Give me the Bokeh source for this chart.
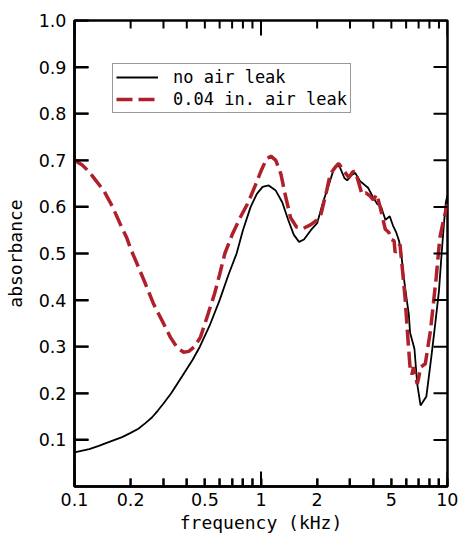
import math
from bokeh.plotting import figure
from bokeh.models import (FixedTicker, Legend, LegendItem, PrintfTickFormatter)
from bokeh.embed import file_html
from bokeh.resources import INLINE

# ---- data ----
freq_no_leak = [0.1, 0.12, 0.135, 0.15, 0.18, 0.2, 0.22, 0.24, 0.26, 0.28, 0.3, 0.33, 0.38, 0.43,
                0.47, 0.53, 0.6, 0.67, 0.74, 0.8, 0.88, 0.95, 1.02, 1.1, 1.2, 1.3, 1.4, 1.5, 1.6,
                1.7, 1.85, 2.0, 2.15, 2.3, 2.45, 2.55, 2.65, 2.8, 2.9, 3.05, 3.2, 3.4,
                3.55, 3.75, 4.0, 4.2, 4.4, 4.65, 4.9, 5.1, 5.3, 5.5, 5.65, 5.8, 6.05,
                6.2, 6.3, 6.5, 6.65, 6.88, 7.17, 7.7, 8.2, 8.6, 9.0, 9.3, 9.6, 9.8, 10.0]
abs_no_leak = [0.073, 0.08, 0.087, 0.094, 0.106, 0.115, 0.124, 0.136, 0.148, 0.163, 0.178, 0.2,
               0.238, 0.272, 0.3, 0.345, 0.4, 0.455, 0.5, 0.55, 0.6, 0.628, 0.643, 0.646, 0.635,
               0.61, 0.572, 0.54, 0.525, 0.53, 0.55, 0.565, 0.61, 0.645, 0.68, 0.69, 0.685, 0.662,
               0.657, 0.668, 0.673, 0.655, 0.649, 0.641, 0.62, 0.606, 0.601, 0.572, 0.58, 0.56,
               0.546, 0.527, 0.5, 0.455, 0.4, 0.37, 0.33, 0.31, 0.295, 0.22, 0.174, 0.193, 0.28,
               0.35, 0.42, 0.5, 0.57, 0.61, 0.625]

freq_leak = [0.1, 0.11, 0.12, 0.13, 0.144, 0.16, 0.176, 0.19, 0.2, 0.217, 0.24, 0.266, 0.3,
             0.327, 0.355, 0.385, 0.41, 0.44, 0.473, 0.52, 0.563, 0.6, 0.64, 0.7, 0.78, 0.85,
             0.93, 1.0, 1.07, 1.13, 1.2, 1.28, 1.35, 1.44, 1.55, 1.69, 1.85, 2.0, 2.1, 2.25,
             2.35, 2.5, 2.61, 2.75, 2.96, 3.1, 3.2, 3.35, 3.48, 3.65, 3.85, 4.0, 4.18, 4.35,
             4.64, 4.85, 5.0, 5.17, 5.24, 5.4, 5.56, 5.75, 5.92, 6.1, 6.3, 6.45, 6.57, 6.75,
             6.88, 7.02, 7.17, 7.4, 7.6, 8.1, 8.7, 9.1, 9.5, 10.0]
abs_leak = [0.70, 0.69, 0.675, 0.657, 0.634, 0.6, 0.563, 0.535, 0.51, 0.477, 0.435, 0.391,
            0.35, 0.32, 0.298, 0.288, 0.29, 0.3, 0.32, 0.37, 0.413, 0.455, 0.5, 0.54, 0.58,
            0.608, 0.645, 0.677, 0.703, 0.709, 0.7, 0.67, 0.625, 0.577, 0.557, 0.554, 0.562,
            0.572, 0.585, 0.635, 0.67, 0.685, 0.693, 0.68, 0.663, 0.675, 0.677, 0.65, 0.627,
            0.63, 0.623, 0.615, 0.627, 0.6, 0.552, 0.545, 0.53, 0.527, 0.502, 0.51, 0.52, 0.46,
            0.406, 0.33, 0.255, 0.24, 0.256, 0.235, 0.22, 0.235, 0.256, 0.26, 0.263, 0.334,
            0.449, 0.534, 0.57, 0.606]

x_major = [0.1, 0.2, 0.5, 1, 2, 5, 10]
x_minor = [0.3, 0.4, 0.6, 0.7, 0.8, 0.9, 3, 4, 6, 7, 8, 9]
x_decades = [0.1, 1, 10]
y_ticks = [0.1, 0.2, 0.3, 0.4, 0.5, 0.6, 0.7, 0.8, 0.9, 1.0]
x_min, x_max = 0.1, 10
y_min, y_max = 0.0, 1.0

TICK_FONT = "DejaVu Sans"
LABEL_FONT = "DejaVu Sans Mono"
RED = "#b0202a"

W, H = 458, 536
BL, BR, BT, BB = 74, 11, 20, 50
FRAME_W, FRAME_H = W - BL - BR, H - BT - BB

p = figure(width=W, height=H, x_axis_type="log", x_range=(x_min, x_max), y_range=(y_min, y_max),
           output_backend="svg", toolbar_location=None,
           min_border_left=BL, min_border_right=BR, min_border_top=BT, min_border_bottom=BB)
p.xgrid.grid_line_color = None
p.ygrid.grid_line_color = None
p.outline_line_color = "black"
p.outline_line_width = 2.5

# bottom axis
xa = p.xaxis[0]
xa.ticker = FixedTicker(ticks=x_major, minor_ticks=x_minor)
xa.formatter = PrintfTickFormatter(format="%g")
xa.axis_label = "frequency (kHz)"
xa.major_tick_in = 8
xa.minor_tick_in = 8
# left axis
ya = p.yaxis[0]
ya.ticker = FixedTicker(ticks=y_ticks)
ya.formatter = PrintfTickFormatter(format="%.1f")
ya.axis_label = "absorbance"
ya.major_tick_in = 14
ya.minor_tick_in = 0

for ax in (xa, ya):
    ax.major_tick_out = 0
    ax.minor_tick_out = 0
    ax.axis_line_width = 2.5
    ax.major_tick_line_width = 2
    ax.minor_tick_line_width = 2
    ax.major_label_text_font = TICK_FONT
    ax.major_label_text_font_size = "17.5px"
    ax.major_label_text_color = "black"
    ax.axis_label_text_font = LABEL_FONT
    ax.axis_label_text_font_size = "18px"
    ax.axis_label_text_font_style = "normal"
    ax.axis_label_text_color = "black"
ya.minor_tick_line_color = None
xa.major_label_standoff = 6
xa.axis_label_standoff = 3
ya.major_label_standoff = 8
ya.axis_label_standoff = 10

r1 = p.line(freq_no_leak, abs_no_leak, line_color="black", line_width=1.8)
r2 = p.line(freq_leak, abs_leak, line_color=RED, line_width=3.5, line_dash="16 6")

# inward tick marks on all four frame edges (drawn after the curves)
decades_span = math.log10(x_max / x_min)
def x_shift(x, px):
    return x * 10 ** (px * decades_span / FRAME_W)
def y_len(px):
    return px * (y_max - y_min) / FRAME_H

xs, ys = [], []
for x in x_major + x_minor:
    ln = 15 if x in x_decades else 8
    xs += [[x, x], [x, x]]
    ys += [[y_min, y_min + y_len(ln)], [y_max, y_max - y_len(ln)]]
for y in y_ticks:
    xs += [[x_min, x_shift(x_min, 14)], [x_max, x_shift(x_max, -14)]]
    ys += [[y, y], [y, y]]
p.multi_line(xs, ys, line_color="#000000", line_width=2)

legend = Legend(items=[LegendItem(label="no air leak", renderers=[r1]),
                       LegendItem(label="0.04 in. air leak", renderers=[r2])],
                location=(38, 373))
legend.label_text_font = LABEL_FONT
legend.label_text_font_size = "17px"
legend.label_text_color = "black"
legend.border_line_color = "#333333"
legend.border_line_width = 1.2
legend.padding = 3
legend.spacing = 2
legend.glyph_width = 42
legend.glyph_height = 18
legend.label_height = 18
legend.label_standoff = 15
legend.margin = 0
p.add_layout(legend)

open("out.html", "w").write(file_html(p, INLINE))
